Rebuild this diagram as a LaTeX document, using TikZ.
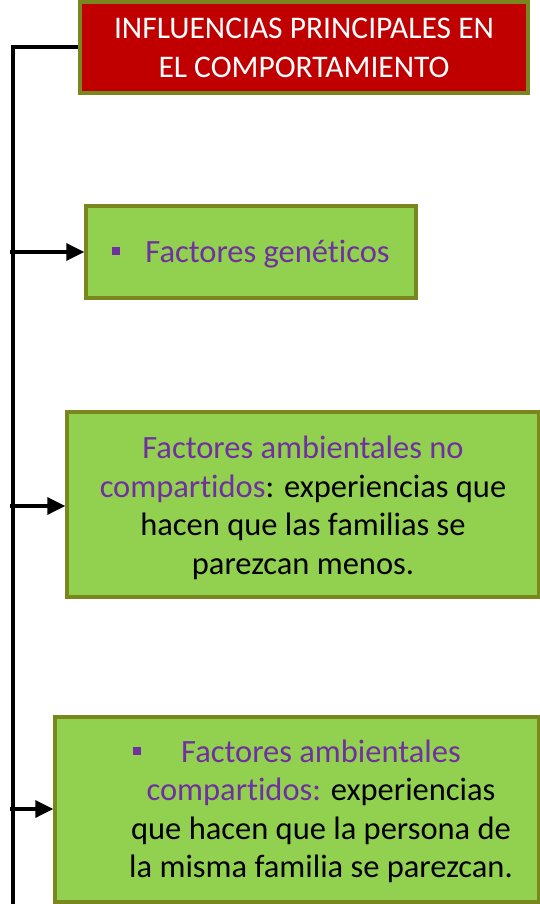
\documentclass[tikz,border=0pt]{standalone}
\usepackage{fontspec}
\setmainfont{Carlito}[Ligatures={NoCommon}]
\usetikzlibrary{arrows.meta}
\definecolor{boxred}{RGB}{192,0,0}
\definecolor{boxgreen}{RGB}{146,208,80}
\definecolor{boxolive}{RGB}{122,134,30}
\definecolor{txtpurple}{RGB}{112,48,160}
\tikzset{
  box/.style={draw=boxolive, line width=3.5pt, inner sep=0pt, align=center},
  greenbox/.style={box, fill=boxgreen},
  gtext/.style={inner sep=0pt, align=center, font=\fontsize{32.5}{38.5}\selectfont},
  conn/.style={line width=3.5pt, black},
  arr/.style={conn, -{Triangle[length=18pt,width=17pt]}},
}
\newcommand{\bul}{{\color{txtpurple}\raisebox{7pt}{\rule{8pt}{8pt}}}}
\begin{document}
\begin{tikzpicture}[x=1pt,y=-1pt]
\useasboundingbox (0,0) rectangle (539,904);
\node[box, fill=boxred, minimum width=448pt, minimum height=91pt] (top) at (304,47.5) {};
\node[inner sep=0pt, align=center, text=white, font=\fontsize{31.5}{39}\selectfont] (toptext) at (304,48)
  {INFLUENCIAS PRINCIPALES EN\\EL COMPORTAMIENTO};
\node[greenbox, minimum width=330pt, minimum height=92pt] (gen) at (251,252) {};
\node[gtext] (gentext) at (251,254)
  {\bul\hspace{25pt}{\color{txtpurple}Factores genéticos}};
\node[greenbox, minimum width=472pt, minimum height=185pt] (nocomp) at (303,504.5) {};
\node[gtext] (nocomptext) at (303,508)
  {{\color{txtpurple}Factores ambientales no}\\{\color{txtpurple}compartidos}: experiencias que\\hacen que las familias se\\parezcan menos.};
\node[greenbox, minimum width=484pt, minimum height=185pt] (comp) at (297,809.5) {};
\node[gtext] (comptext) at (321,811.5)
  {\llap{\bul\hspace{40pt}}{\color{txtpurple}Factores ambientales}\\{\color{txtpurple}compartidos:} experiencias\\que hacen que la persona de\\la misma familia se parezcan.};
\coordinate (c0) at (13,47);
\coordinate (cend) at (13,906);
\coordinate (a1) at (10,252);
\coordinate (a2) at (10,506);
\coordinate (a3) at (10,809);
\draw[conn] (top.west |- c0) -- (c0) -- (cend);
\draw[arr] (a1) -- (gen.west |- a1);
\draw[arr] (a2) -- (nocomp.west |- a2);
\draw[arr] (a3) -- (comp.west |- a3);
\end{tikzpicture}
\end{document}
